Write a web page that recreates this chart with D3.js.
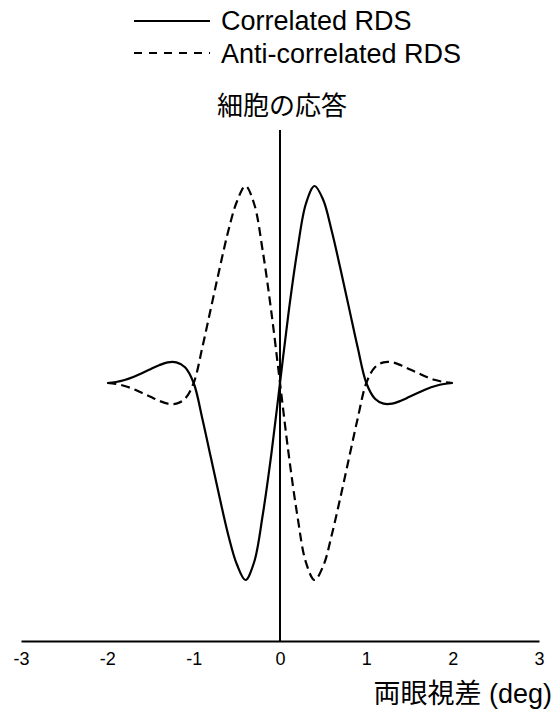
<!DOCTYPE html>
<html>
<head>
<meta charset="utf-8">
<script src="https://cdn.jsdelivr.net/npm/d3@7"></script>
<style>
  html, body { margin: 0; padding: 0; background: #fff; }
  svg { display: block; }
  text { font-family: "Liberation Sans", Arial, "Noto Sans CJK JP", sans-serif; fill: #000; }
</style>
</head>
<body>
<script>
// ---- data ----
const disparity = [-2.0,-1.9,-1.8,-1.7,-1.6,-1.5,-1.4,-1.3,-1.2,-1.1,-1.0,-0.9,-0.8,-0.7,-0.6,-0.5,-0.4,-0.3,-0.2,-0.1,
                   0.0,0.1,0.2,0.3,0.4,0.5,0.6,0.7,0.8,0.9,1.0,1.1,1.2,1.3,1.4,1.5,1.6,1.7,1.8,1.9,2.0];
const correlated = [0,0.005,0.015,0.03,0.05,0.07,0.09,0.105,0.105,0.08,0.00,-0.18,-0.38,-0.58,-0.77,-0.92,-1.00,-0.91,-0.67,-0.36,
                    0,0.36,0.67,0.91,1.00,0.93,0.77,0.58,0.38,0.18,0.00,-0.08,-0.105,-0.105,-0.09,-0.07,-0.05,-0.03,-0.015,-0.005,0];
const anticorrelated = [0,-0.005,-0.015,-0.03,-0.05,-0.07,-0.09,-0.105,-0.105,-0.08,0.00,0.18,0.38,0.58,0.77,0.92,1.00,0.91,0.67,0.36,
                        0,-0.36,-0.67,-0.91,-1.00,-0.93,-0.77,-0.58,-0.38,-0.18,0.00,0.08,0.105,0.105,0.09,0.07,0.05,0.03,0.015,0.005,0];
const xTicks = [-3,-2,-1,0,1,2,3];
const xTickLabels = ["-3","-2","-1","0","1","2","3"];
const seriesNames = ["Correlated RDS", "Anti-correlated RDS"];
const xTitle = "両眼視差 (deg)";
const yTitle = "細胞の応答";

// ---- layout ----
const W = 554, H = 713;
const svg = d3.select("body").append("svg").attr("width", W).attr("height", H);

const x = d3.scaleLinear().domain([-3, 3]).range([21, 539]);
const y = d3.scaleLinear().domain([-1, 1]).range([580, 186]);
const axisY = 641;
const yTopLine = 130;

// vertical response axis at x = 0
svg.append("line")
  .attr("x1", x(0)).attr("x2", x(0))
  .attr("y1", yTopLine).attr("y2", axisY)
  .attr("stroke", "#000").attr("stroke-width", 2);

// x axis
const xAxis = d3.axisBottom(x)
  .tickValues(xTicks)
  .tickFormat((d, i) => xTickLabels[i])
  .tickSize(0)
  .tickSizeOuter(0)
  .tickPadding(11);
const gx = svg.append("g").attr("transform", `translate(0,${axisY})`).call(xAxis);
gx.select(".domain").attr("stroke", "#000").attr("stroke-width", 2);
gx.selectAll(".tick text")
  .attr("font-size", 18)
  .attr("font-family", "Liberation Sans, Arial, sans-serif")
  .attr("fill", "#000");

// curves
const line = d3.line()
  .x((d, i) => x(disparity[i]))
  .y(d => y(d))
  .curve(d3.curveCatmullRom.alpha(0.5));

svg.append("path")
  .datum(anticorrelated)
  .attr("d", line)
  .attr("fill", "none")
  .attr("stroke", "#000")
  .attr("stroke-width", 2.2)
  .attr("stroke-dasharray", "9,5");

svg.append("path")
  .datum(correlated)
  .attr("d", line)
  .attr("fill", "none")
  .attr("stroke", "#000")
  .attr("stroke-width", 2.2);

// legend
const legend = svg.append("g");
legend.append("line")
  .attr("x1", 134).attr("x2", 210).attr("y1", 21).attr("y2", 21)
  .attr("stroke", "#000").attr("stroke-width", 2);
legend.append("text")
  .attr("x", 221).attr("y", 30)
  .attr("font-size", 27)
  .text(seriesNames[0]);
legend.append("line")
  .attr("x1", 134).attr("x2", 210).attr("y1", 53).attr("y2", 53)
  .attr("stroke", "#000").attr("stroke-width", 2)
  .attr("stroke-dasharray", "8,7");
legend.append("text")
  .attr("x", 221).attr("y", 63)
  .attr("font-size", 27)
  .text(seriesNames[1]);

// titles
svg.append("text")
  .attr("x", x(0) + 2).attr("y", 115)
  .attr("text-anchor", "middle")
  .attr("font-size", 26)
  .attr("font-family", "Noto Sans CJK JP, sans-serif")
  .text(yTitle);

svg.append("text")
  .attr("x", 552).attr("y", 703)
  .attr("text-anchor", "end")
  .attr("font-size", 27)
  .text(xTitle);
</script>
</body>
</html>
